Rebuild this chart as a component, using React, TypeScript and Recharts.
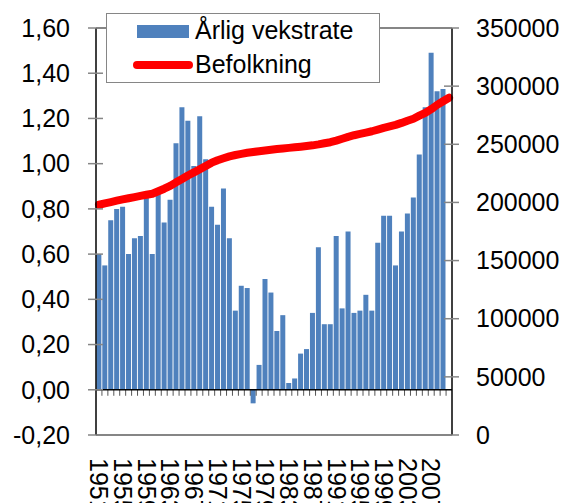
import { Bar, ComposedChart, Legend, Line, ReferenceLine, XAxis, YAxis } from "recharts";

// kategorier (år)
const years = [
  1951, 1952, 1953, 1954, 1955, 1956, 1957, 1958, 1959, 1960,
  1961, 1962, 1963, 1964, 1965, 1966, 1967, 1968, 1969, 1970,
  1971, 1972, 1973, 1974, 1975, 1976, 1977, 1978, 1979, 1980,
  1981, 1982, 1983, 1984, 1985, 1986, 1987, 1988, 1989, 1990,
  1991, 1992, 1993, 1994, 1995, 1996, 1997, 1998, 1999, 2000,
  2001, 2002, 2003, 2004, 2005, 2006, 2007, 2008, 2009, 2010,
];

// Årlig vekstrate (%), venstre akse - 2010 mangler
const growthRate = [
  0.6, 0.55, 0.75, 0.8, 0.81, 0.6, 0.67, 0.68, 0.86, 0.6,
  0.88, 0.74, 0.84, 1.09, 1.25, 1.19, 0.99, 1.21, 1.02, 0.81,
  0.73, 0.89, 0.67, 0.35, 0.46, 0.45, -0.06, 0.11, 0.49, 0.43,
  0.26, 0.33, 0.03, 0.05, 0.16, 0.18, 0.34, 0.63, 0.29, 0.29,
  0.68, 0.36, 0.7, 0.34, 0.35, 0.42, 0.35, 0.65, 0.77, 0.77,
  0.55, 0.7, 0.78, 0.85, 1.04, 1.25, 1.49, 1.32, 1.33, null,
];

// Befolkning, høyre akse
const population = [
  198000, 199200, 200300, 201500, 202600, 203600, 204600, 205600, 206600, 207500,
  209600, 211800, 214200, 217300, 220200, 223200, 225800, 228600, 231400, 234200,
  236300, 238000, 239600, 240800, 241800, 242700, 243400, 244000, 244700, 245300,
  245900, 246400, 246900, 247400, 247900, 248500, 249100, 249900, 250900, 251800,
  253200, 254800, 256400, 257800, 258900, 260000, 261200, 262600, 264100, 265400,
  266700, 268400, 270300, 272000, 274600, 277000, 280200, 283900, 287000, 290000,
];

const leftTicks = [-0.2, 0, 0.2, 0.4, 0.6, 0.8, 1.0, 1.2, 1.4, 1.6];
const rightTicks = [0, 50000, 100000, 150000, 200000, 250000, 300000, 350000];

const seriesNames = { vekst: "Årlig vekstrate", befolkning: "Befolkning" };

const FONT = "'Liberation Sans', Arial, sans-serif";
const FONT_SIZE = 25;
const BLUE = "#4F81BD";
const RED = "#FF0000";
const GRAY = "#868686";

const chartData = years.map((year, i) => ({
  year: String(year),
  vekst: growthRate[i],
  befolkning: population[i],
}));

function LeftTick({ x, y, payload }: any) {
  return (
    <g>
      <line x1={x + 18} x2={x + 33} y1={y} y2={y} stroke={GRAY} strokeWidth={1.5} />
      <text x={x} y={y} dy='0.35em' textAnchor='end' fontSize={FONT_SIZE} fontFamily={FONT} fill='#000'>
        {Number(payload.value).toFixed(2).replace(".", ",")}
      </text>
    </g>
  );
}

function RightTick({ x, y, payload }: any) {
  return (
    <g>
      <line x1={x - 32} x2={x - 17} y1={y} y2={y} stroke={GRAY} strokeWidth={1.5} />
      <text x={x} y={y} dy='0.35em' textAnchor='start' fontSize={FONT_SIZE} fontFamily={FONT} fill='#000'>
        {payload.value}
      </text>
    </g>
  );
}

function YearTick({ x, y, payload }: any) {
  return (
    <text
      x={x}
      y={y}
      dy='0.35em'
      transform={`rotate(90, ${x}, ${y})`}
      textAnchor='start'
      fontSize={FONT_SIZE}
      fontFamily={FONT}
      fill='#000'
    >
      {payload.value}
    </text>
  );
}

// nullinje med kategoritikker
function ZeroAxis(props: any) {
  const { x1, x2, y1 } = props;
  const step = (x2 - x1) / years.length;
  return (
    <g>
      {years.slice(1).map((_, i) => (
        <line key={i} x1={x1 + (i + 1) * step} x2={x1 + (i + 1) * step} y1={y1} y2={y1 + 6} stroke='#555' strokeWidth={1} />
      ))}
      <line x1={x1} x2={x2} y1={y1} y2={y1} stroke='#000' strokeWidth={1.5} />
    </g>
  );
}

function LegendBox() {
  const text = { position: "absolute" as const, left: 88, fontSize: FONT_SIZE, lineHeight: "25px", fontFamily: FONT, color: "#000", whiteSpace: "nowrap" as const };
  return (
    <div style={{ position: "relative", width: 274, height: 70, boxSizing: "border-box", border: `1.5px solid ${GRAY}`, background: "#fff" }}>
      <div style={{ position: "absolute", left: 30, top: 11, width: 52, height: 13, background: BLUE }} />
      <div style={{ ...text, top: 4 }}>{seriesNames.vekst}</div>
      <div style={{ position: "absolute", left: 26, top: 47, width: 60, height: 8, borderRadius: 4, background: RED }} />
      <div style={{ ...text, top: 38 }}>{seriesNames.befolkning}</div>
    </div>
  );
}

export default function App() {
  return (
    <div style={{ position: "absolute", left: 0, top: 0, fontFamily: FONT }}>
      <ComposedChart width={567} height={503} data={chartData} margin={{ top: 28, right: 0, bottom: 0, left: 0 }} barCategoryGap='6%'>
        <XAxis dataKey='year' height={68} interval={3} axisLine={false} tickLine={false} tickSize={0} tickMargin={23} tick={<YearTick />} />
        <YAxis
          yAxisId='left'
          orientation='left'
          width={96}
          domain={[-0.2, 1.6]}
          ticks={leftTicks}
          interval={0}
          axisLine={{ stroke: "#000", strokeWidth: 1.5 }}
          tickLine={false}
          tickSize={0}
          tickMargin={26}
          tick={<LeftTick />}
        />
        <YAxis
          yAxisId='right'
          orientation='right'
          width={115}
          domain={[0, 350000]}
          ticks={rightTicks}
          interval={0}
          axisLine={{ stroke: "#000", strokeWidth: 1.5 }}
          tickLine={false}
          tickSize={0}
          tickMargin={24}
          tick={<RightTick />}
        />
        <ReferenceLine yAxisId='left' y={1.6} stroke={GRAY} strokeWidth={2} />
        <ReferenceLine yAxisId='left' y={-0.2} stroke={GRAY} strokeWidth={2} />
        <Bar yAxisId='left' dataKey='vekst' name={seriesNames.vekst} fill={BLUE} isAnimationActive={false} />
        <ReferenceLine yAxisId='left' y={0} shape={<ZeroAxis />} />
        <Line
          yAxisId='right'
          type='linear'
          dataKey='befolkning'
          name={seriesNames.befolkning}
          stroke={RED}
          strokeWidth={8}
          strokeLinecap='round'
          strokeLinejoin='round'
          dot={false}
          activeDot={false}
          isAnimationActive={false}
        />
        <Legend
          layout='horizontal'
          verticalAlign='middle'
          align='center'
          wrapperStyle={{ left: 106, top: 13, width: 274, height: 70 }}
          content={() => <LegendBox />}
        />
      </ComposedChart>
    </div>
  );
}
